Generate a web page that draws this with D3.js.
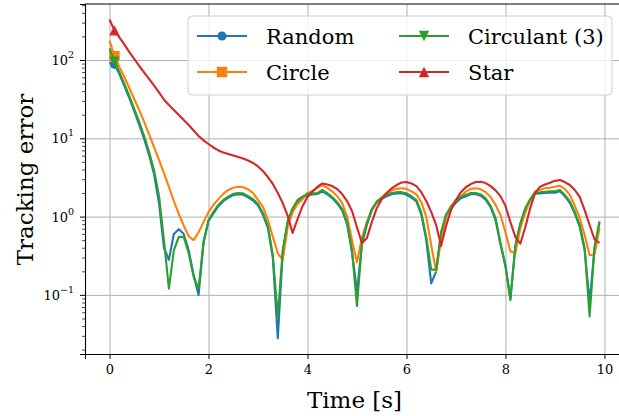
<!DOCTYPE html>
<html lang="en">
<head>
<meta charset="UTF-8">
<title>Tracking error</title>
<script src="https://d3js.org/d3.v7.min.js"></script>
<style>
  body { margin: 0; background: #fff; }
</style>
</head>
<body>
<svg id="chart" width="619" height="416"></svg>
<script>
// sample times [s]
const time = [
  0.0, 0.1, 0.2, 0.3, 0.4, 0.5, 0.6, 0.7, 0.8, 0.9,
  1.0, 1.1, 1.2, 1.3, 1.4, 1.5, 1.6, 1.7, 1.8, 1.9,
  2.0, 2.1, 2.2, 2.3, 2.4, 2.5, 2.6, 2.7, 2.8, 2.9,
  3.0, 3.1, 3.2, 3.3, 3.4, 3.5, 3.6, 3.7, 3.8, 3.9,
  4.0, 4.1, 4.2, 4.3, 4.4, 4.5, 4.6, 4.7, 4.8, 4.9,
  5.0, 5.1, 5.2, 5.3, 5.4, 5.5, 5.6, 5.7, 5.8, 5.9,
  6.0, 6.1, 6.2, 6.3, 6.4, 6.5, 6.6, 6.7, 6.8, 6.9,
  7.0, 7.1, 7.2, 7.3, 7.4, 7.5, 7.6, 7.7, 7.8, 7.9,
  8.0, 8.1, 8.2, 8.3, 8.4, 8.5, 8.6, 8.7, 8.8, 8.9,
  9.0, 9.1, 9.2, 9.3, 9.4, 9.5, 9.6, 9.7, 9.8, 9.9
];

const random = [
  92, 88, 66, 46.6, 32.7, 22.3, 14.8, 9.8, 6.1, 3.5,
  1.49, 0.40, 0.28, 0.6, 0.69, 0.6, 0.37, 0.18, 0.10, 0.46,
  0.88, 1.1, 1.36, 1.57, 1.74, 1.88, 1.93, 1.9, 1.76, 1.6,
  1.39, 1.05, 0.72, 0.3, 0.028, 0.35, 0.84, 1.22, 1.56, 1.73,
  1.88, 1.92, 1.94, 2.1, 1.93, 1.72, 1.47, 1.2, 0.8, 0.35,
  0.11, 0.44, 0.78, 1.2, 1.5, 1.67, 1.82, 1.93, 1.98, 1.98,
  1.9, 1.75, 1.56, 1.06, 0.5, 0.14, 0.2, 0.6, 1.02, 1.28,
  1.5, 1.71, 1.82, 1.93, 1.93, 1.85, 1.64, 1.32, 0.9, 0.44,
  0.23, 0.09, 0.41, 0.79, 1.23, 1.61, 1.96, 1.98, 2.0, 2.02,
  2.02, 2.1, 1.82, 1.5, 1.1, 0.74, 0.37, 0.08, 0.39, 0.83
];

const circle = [
  177, 112, 81, 60.6, 43.9, 31.8, 23.0, 16.2, 11.2, 7.7,
  5.3, 3.6, 2.4, 1.58, 1.08, 0.77, 0.56, 0.5, 0.63, 0.85,
  1.14, 1.41, 1.67, 1.95, 2.19, 2.33, 2.4, 2.37, 2.23, 2.0,
  1.63, 1.33, 0.91, 0.55, 0.34, 0.28, 0.73, 1.14, 1.45, 1.67,
  2.0, 2.1, 2.33, 2.53, 2.33, 2.1, 1.82, 1.5, 1.0, 0.5,
  0.26, 0.54, 0.85, 1.21, 1.53, 1.78, 2.0, 2.15, 2.26, 2.3,
  2.26, 2.1, 1.92, 1.53, 0.99, 0.43, 0.2, 0.5, 0.96, 1.37,
  1.63, 1.82, 2.08, 2.26, 2.3, 2.23, 2.05, 1.78, 1.41, 1.05,
  0.63, 0.36, 0.34, 0.71, 1.12, 1.63, 2.1, 2.19, 2.3, 2.33,
  2.4, 2.47, 2.26, 1.89, 1.37, 0.96, 0.58, 0.32, 0.33, 0.71
];

const circulant = [
  141, 95, 70, 49.4, 34.7, 23.7, 16.2, 10.7, 6.7, 3.9,
  1.85, 0.5, 0.12, 0.37, 0.55, 0.55, 0.34, 0.17, 0.12, 0.48,
  0.9, 1.15, 1.41, 1.63, 1.80, 1.95, 2.0, 1.98, 1.82, 1.67,
  1.45, 1.1, 0.76, 0.32, 0.053, 0.37, 0.88, 1.28, 1.63, 1.8,
  1.95, 1.98, 2.0, 2.2, 2.0, 1.78, 1.53, 1.25, 0.85, 0.37,
  0.072, 0.46, 0.82, 1.25, 1.56, 1.73, 1.89, 2.0, 2.05, 2.05,
  1.98, 1.82, 1.63, 1.12, 0.55, 0.21, 0.21, 0.64, 1.07, 1.33,
  1.56, 1.78, 1.89, 2.0, 2.0, 1.92, 1.71, 1.37, 0.96, 0.46,
  0.24, 0.086, 0.43, 0.82, 1.28, 1.67, 2.03, 2.05, 2.08, 2.1,
  2.1, 2.19, 1.89, 1.56, 1.15, 0.78, 0.4, 0.053, 0.41, 0.87
];

const star = [
  329, 239, 194, 158, 126, 103, 83.8, 69.2, 57.2, 47.2,
  38.5, 31.3, 26.6, 23.0, 19.8, 17.1, 14.8, 12.6, 10.7, 9.4,
  8.45, 7.63, 6.99, 6.59, 6.30, 6.03, 5.77, 5.52, 5.20, 4.84,
  4.37, 3.82, 3.20, 2.61, 2.00, 1.49, 1.02, 0.618, 0.931, 1.36,
  1.78, 2.10, 2.39, 2.65, 2.57, 2.45, 2.25, 1.94, 1.58, 1.18,
  0.73, 0.46, 0.53, 0.85, 1.28, 1.67, 2.0, 2.30, 2.53, 2.72,
  2.76, 2.65, 2.45, 2.05, 1.58, 1.15, 0.78, 0.42, 0.76, 1.21,
  1.63, 2.05, 2.37, 2.60, 2.76, 2.78, 2.68, 2.45, 2.16, 1.82,
  1.37, 0.85, 0.55, 0.45, 0.73, 1.28, 2.0, 2.41, 2.57, 2.70,
  2.86, 2.93, 2.76, 2.53, 2.19, 1.78, 1.21, 0.78, 0.51, 0.46
];

const seriesNames = ["Random", "Circle", "Circulant (3)", "Star"];
const xTicks = [0, 2, 4, 6, 8, 10];
const yTicks = [0.1, 1, 10, 100];
const yTickExps = ["\u22121", "0", "1", "2"];

const colors = ["#1f77b4", "#ff7f0e", "#2ca02c", "#d62728"];
const markers = ["circle", "square", "down", "up"];
const series = [random, circle, circulant, star].map((vals, i) => ({
  name: seriesNames[i], values: vals, color: colors[i], marker: markers[i]
}));

const FONT = "'DejaVu Serif', serif";
const svg = d3.select("#chart");
const margin = {left: 85, top: 4, right: -5, bottom: 62};
const W = 619, H = 416;
const plotW = W - margin.left - margin.right;
const plotH = H - margin.top - margin.bottom;

const x = d3.scaleLinear().domain([-0.495, 10.395]).range([margin.left, margin.left + plotW]);
const y = d3.scaleLog().domain([Math.pow(10, -1.755), Math.pow(10, 2.715)]).range([margin.top + plotH, margin.top]);

// grid
const grid = svg.append("g");
grid.append("g")
  .attr("transform", `translate(0,${margin.top + plotH})`)
  .call(d3.axisBottom(x).tickValues(xTicks).tickSize(-plotH).tickFormat(""))
  .call(g => g.select(".domain").remove())
  .selectAll("line").attr("stroke", "#b0b0b0").attr("stroke-width", 1);
grid.append("g")
  .attr("transform", `translate(${margin.left},0)`)
  .call(d3.axisLeft(y).tickValues(yTicks).tickSize(-plotW).tickFormat(""))
  .call(g => g.select(".domain").remove())
  .selectAll("line").attr("stroke", "#b0b0b0").attr("stroke-width", 1);

svg.append("defs").append("clipPath").attr("id", "clip")
  .append("rect").attr("x", margin.left).attr("y", margin.top).attr("width", plotW).attr("height", plotH);

function markerPath(type, r) {
  if (type === "circle") return d3.symbol(d3.symbolCircle, Math.PI * r * r)();
  if (type === "square") return d3.symbol(d3.symbolSquare, 4 * r * r)();
  if (type === "up") return `M0,${-r}L${r},${r}L${-r},${r}Z`;
  return `M0,${r}L${r},${-r}L${-r},${-r}Z`;
}

const line = d3.line().x((d, i) => x(time[i])).y(d => y(d));
const plot = svg.append("g").attr("clip-path", "url(#clip)");
series.forEach(s => {
  plot.append("path")
    .attr("d", line(s.values))
    .attr("fill", "none")
    .attr("stroke", s.color)
    .attr("stroke-width", 2.1)
    .attr("stroke-linejoin", "round");
  plot.append("path")
    .attr("d", markerPath(s.marker, s.marker === "circle" ? 4.5 : 5.2))
    .attr("transform", `translate(${x(time[1])},${y(s.values[1])})`)
    .attr("fill", s.color);
});

// axes
const xAxis = svg.append("g")
  .attr("transform", `translate(0,${margin.top + plotH})`)
  .call(d3.axisBottom(x).tickValues(xTicks).tickSize(5).tickPadding(6).tickFormat(d3.format("d")));
xAxis.select(".domain").attr("stroke", "#000").attr("stroke-width", 1.1);
xAxis.selectAll("text").attr("font-size", 13).attr("fill", "#000");

const yAxis = svg.append("g")
  .attr("transform", `translate(${margin.left},0)`)
  .call(d3.axisLeft(y).tickValues(yTicks).tickSize(5).tickFormat(""));
yAxis.select(".domain").attr("stroke", "#000").attr("stroke-width", 1.1);

const minors = [];
[0.01, 0.1, 1, 10, 100].forEach(dec => {
  for (let k = 2; k <= 9; k++) {
    const v = dec * k;
    if (v > y.domain()[0] && v < y.domain()[1]) minors.push(v);
  }
});
svg.append("g")
  .attr("transform", `translate(${margin.left},0)`)
  .call(d3.axisLeft(y).tickValues(minors).tickSize(3).tickFormat(""))
  .call(g => g.select(".domain").remove())
  .selectAll("line").attr("stroke-width", 0.7);

const yLabels = svg.append("g");
yTicks.forEach((v, i) => {
  const t = yLabels.append("text")
    .attr("x", margin.left - 11)
    .attr("y", y(v) + 5)
    .attr("text-anchor", "end")
    .attr("font-size", 13);
  t.append("tspan").text("10");
  t.append("tspan").attr("dy", -7).attr("font-size", 9.5).text(yTickExps[i]);
});

// top spine
svg.append("line")
  .attr("x1", margin.left).attr("x2", W)
  .attr("y1", margin.top).attr("y2", margin.top)
  .attr("stroke", "#000").attr("stroke-width", 1.1);

// labels
svg.append("text")
  .attr("x", (margin.left + margin.left + plotW) / 2)
  .attr("y", 408)
  .attr("text-anchor", "middle")
  .attr("font-size", 23)
  .text("Time [s]");
svg.append("text")
  .attr("transform", `translate(33,${(97 + 262) / 2}) rotate(-90)`)
  .attr("text-anchor", "middle")
  .attr("font-size", 23)
  .text("Tracking error");

// legend
const legend = svg.append("g");
legend.append("rect")
  .attr("x", 188).attr("y", 16).attr("width", 424).attr("height", 79)
  .attr("rx", 4)
  .attr("fill", "#fff").attr("fill-opacity", 0.8)
  .attr("stroke", "#d0d0d0").attr("stroke-width", 1);
series.forEach((s, i) => {
  const col = Math.floor(i / 2), row = i % 2;
  const lx = 197 + col * 202, ly = 36 + row * 36;
  legend.append("line")
    .attr("x1", lx).attr("x2", lx + 50).attr("y1", ly).attr("y2", ly)
    .attr("stroke", s.color).attr("stroke-width", 2.1);
  legend.append("path")
    .attr("d", markerPath(s.marker, s.marker === "circle" ? 4.5 : 5.2))
    .attr("transform", `translate(${lx + 25},${ly})`)
    .attr("fill", s.color);
  legend.append("text")
    .attr("x", lx + 69).attr("y", ly + 8)
    .attr("font-size", 21)
    .text(s.name);
});

svg.selectAll("text").attr("font-family", FONT).attr("fill", "#000");
</script>
</body>
</html>
